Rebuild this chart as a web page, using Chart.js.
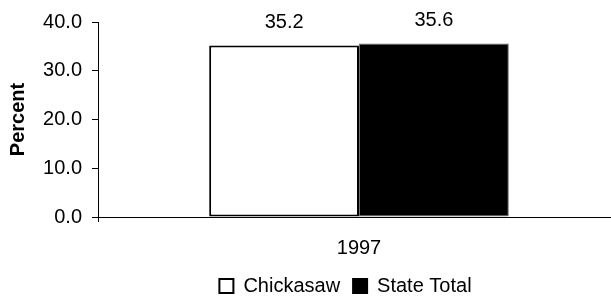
<!DOCTYPE html>
<html>
<head>
<meta charset="utf-8">
<script src="https://cdn.jsdelivr.net/npm/chart.js@4/dist/chart.umd.min.js"></script>
<style>
  html, body { margin: 0; padding: 0; background: #fff; }
  #wrap { width: 611px; height: 297px; }
</style>
</head>
<body>
<div id="wrap"><canvas id="grafico"></canvas></div>
<script>
const anni = ["1997"];
const chickasaw = [35.2];
const statoTotale = [35.6];
const tickY = [0, 10, 20, 30, 40];

const FONT = "'Liberation Sans', Arial, sans-serif";

// etichette sopra le barre
const etichetteValori = {
    id: "etichetteValori",
    afterDatasetsDraw(chart) {
        const ctx = chart.ctx;
        ctx.save();
        ctx.font = "20px " + FONT;
        ctx.fillStyle = "#000";
        ctx.textAlign = "center";
        ctx.textBaseline = "alphabetic";
        chart.data.datasets.forEach((ds, i) => {
            chart.getDatasetMeta(i).data.forEach((bar, j) => {
                ctx.fillText(ds.data[j].toFixed(1), bar.x, bar.y - 17);
            });
        });
        ctx.restore();
    }
};

// l'asse x continua oltre il bordo destro, la legenda sta spostata a destra
const aggiustaLayout = {
    id: "aggiustaLayout",
    afterLayout(chart) {
        const x = chart.scales.x;
        x.right += 9;
        x.width += 9;
        x.configure();
        chart.legend.left += 40;
        chart.legend.right += 40;
    }
};

new Chart(document.getElementById("grafico"), {
    type: "bar",
    data: {
        labels: anni,
        datasets: [
            {
                label: "Chickasaw",
                data: chickasaw,
                backgroundColor: "#ffffff",
                borderColor: "#000000",
                borderWidth: 2,
                borderSkipped: false
            },
            {
                label: "State Total",
                data: statoTotale,
                backgroundColor: "#000000",
                borderColor: "#6f6f6f",
                borderWidth: 1,
                borderSkipped: false
            }
        ]
    },
    options: {
        responsive: true,
        maintainAspectRatio: false,
        animation: false,
        layout: { padding: { top: 21, right: 0, bottom: -9, left: 0 } },
        datasets: { bar: { barPercentage: 1, categoryPercentage: 0.574 } },
        plugins: {
            legend: {
                position: "bottom",
                labels: {
                    color: "#000",
                    font: { family: FONT, size: 20 },
                    boxWidth: 14,
                    boxHeight: 14,
                    padding: 13,
                    generateLabels(chart) {
                        return chart.data.datasets.map((ds, i) => ({
                            text: ds.label,
                            fillStyle: ds.backgroundColor,
                            strokeStyle: "#000",
                            lineWidth: 2,
                            datasetIndex: i
                        }));
                    }
                }
            },
            tooltip: { enabled: false },
            title: { display: false }
        },
        scales: {
            x: {
                afterFit(scale) { scale.height = 46; },
                grid: { display: true, drawOnChartArea: false, color: "#000", tickLength: 5 },
                border: { color: "#000", width: 1 },
                ticks: { color: "#000", font: { family: FONT, size: 20 }, padding: 14 }
            },
            y: {
                min: 0,
                max: 40,
                afterBuildTicks(scale) {
                    scale.ticks = tickY.map(v => ({ value: v }));
                },
                afterFit(scale) { scale.width = 98; },
                grid: { display: true, drawOnChartArea: false, color: "#000", tickLength: 6 },
                border: { color: "#000", width: 1 },
                ticks: {
                    color: "#000",
                    font: { family: FONT, size: 20 },
                    padding: 10,
                    callback: v => Number(v).toFixed(1)
                },
                title: {
                    display: true,
                    text: "Percent",
                    color: "#000",
                    font: { family: FONT, size: 20, weight: "bold" },
                    padding: { top: 6, bottom: 0 }
                }
            }
        }
    },
    plugins: [etichetteValori, aggiustaLayout]
});
</script>
</body>
</html>
